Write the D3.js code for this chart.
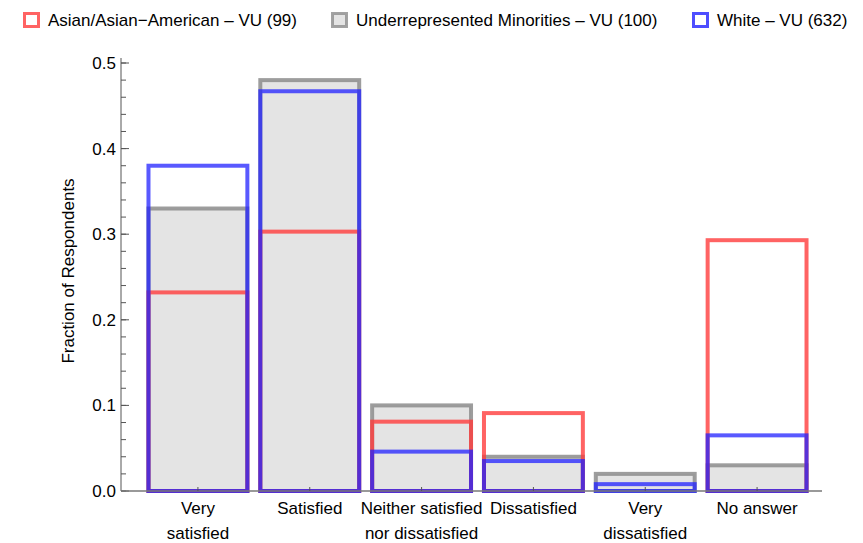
<!DOCTYPE html>
<html>
<head>
<meta charset="UTF-8">
<title>Satisfaction by group</title>
<script src="https://cdn.jsdelivr.net/npm/d3@7"></script>
<style>
  body { margin: 0; background: #fff; }
  text { font-family: "Liberation Sans", Arial, sans-serif; fill: #000; font-size: 17px; }
</style>
</head>
<body>
<div id="chart"></div>
<script>
var W = 863, H = 543;

// data
var categories = ["Very satisfied", "Satisfied", "Neither satisfied nor dissatisfied", "Dissatisfied", "Very dissatisfied", "No answer"];
var catLines = [["Very", "satisfied"], ["Satisfied"], ["Neither satisfied", "nor dissatisfied"], ["Dissatisfied"], ["Very", "dissatisfied"], ["No answer"]];
var asianVals = [0.232, 0.303, 0.081, 0.091, 0.0, 0.293];
var urmVals = [0.33, 0.48, 0.10, 0.04, 0.02, 0.03];
var whiteVals = [0.38, 0.467, 0.046, 0.035, 0.008, 0.065];
var seriesNames = ["Asian/Asian\u2212American \u2013 VU (99)", "Underrepresented Minorities \u2013 VU (100)", "White \u2013 VU (632)"];
var yTicks = [0, 0.1, 0.2, 0.3, 0.4, 0.5];

var series = [
  {name: seriesNames[1], vals: urmVals, stroke: "#8c8c8c", fill: "#e4e4e4", op: 0.85},
  {name: seriesNames[0], vals: asianVals, stroke: "#ff3c3c", fill: "none", op: 0.8},
  {name: seriesNames[2], vals: whiteVals, stroke: "#2222ff", fill: "none", op: 0.75}
];

var svg = d3.select("#chart").append("svg")
  .attr("width", W).attr("height", H);

var x = d3.scaleBand().domain(categories).range([142, 813])
  .paddingInner(0.08).paddingOuter(0.04);
var y = d3.scaleLinear().domain([0, 0.5]).range([491, 63]);

// bars
series.forEach(function (s) {
  svg.append("g").selectAll("rect")
    .data(s.vals)
    .enter().append("rect")
    .attr("x", function (d, i) { return x(categories[i]) + 2; })
    .attr("width", x.bandwidth() - 4)
    .attr("y", function (d) { return y(d); })
    .attr("height", function (d) { return y(0) - y(d); })
    .attr("fill", s.fill)
    .attr("stroke", s.stroke)
    .attr("stroke-opacity", s.op)
    .attr("stroke-width", 4)
    .style("display", function (d) { return d > 0 ? null : "none"; });
});

// y axis
var yMinor = d3.range(0, 0.5001, 0.02);
var ya = svg.append("g");
ya.append("line").attr("x1", 121).attr("x2", 121).attr("y1", y(0.5) - 5).attr("y2", y(0))
  .attr("stroke", "#555").attr("stroke-width", 1);
ya.selectAll(".mn").data(yMinor).enter().append("line")
  .attr("x1", 121).attr("x2", 126)
  .attr("y1", function (d) { return y(d); }).attr("y2", function (d) { return y(d); })
  .attr("stroke", "#555");
ya.selectAll(".mj").data(yTicks).enter().append("line")
  .attr("x1", 121).attr("x2", 129)
  .attr("y1", function (d) { return y(d); }).attr("y2", function (d) { return y(d); })
  .attr("stroke", "#555");
ya.selectAll("text").data(yTicks).enter().append("text")
  .attr("x", 116).attr("y", function (d) { return y(d); })
  .attr("dy", "0.35em").attr("text-anchor", "end")
  .text(d3.format(".1f"));

svg.append("text")
  .attr("transform", "translate(74,271) rotate(-90)")
  .attr("text-anchor", "middle")
  .text("Fraction of Respondents");

// x axis
var xa = svg.append("g");
xa.append("line").attr("x1", 121).attr("x2", 822).attr("y1", y(0)).attr("y2", y(0))
  .attr("stroke", "#777").attr("stroke-width", 1.3);
xa.selectAll("line.t").data(categories).enter().append("line")
  .attr("x1", function (d) { return x(d) + x.bandwidth() / 2; })
  .attr("x2", function (d) { return x(d) + x.bandwidth() / 2; })
  .attr("y1", y(0)).attr("y2", y(0) - 4)
  .attr("stroke", "#555");
xa.selectAll("text").data(categories).enter().append("text")
  .attr("x", function (d) { return x(d) + x.bandwidth() / 2; })
  .attr("y", 514)
  .attr("text-anchor", "middle")
  .each(function (d, i) {
    var t = d3.select(this);
    catLines[i].forEach(function (ln, k) {
      t.append("tspan").attr("x", x(d) + x.bandwidth() / 2)
        .attr("dy", k === 0 ? 0 : 25).text(ln);
    });
  });

// legend
var legendX = [23, 331, 692];
var legendOrder = [
  {name: seriesNames[0], stroke: "#ff3c3c", fill: "#fff"},
  {name: seriesNames[1], stroke: "#8c8c8c", fill: "#e4e4e4"},
  {name: seriesNames[2], stroke: "#2222ff", fill: "#fff"}
];
var lg = svg.append("g").selectAll("g").data(legendOrder).enter().append("g")
  .attr("transform", function (d, i) { return "translate(" + legendX[i] + ",12)"; });
lg.append("rect").attr("x", 1.5).attr("y", 1.5).attr("width", 14).attr("height", 13)
  .attr("fill", function (d) { return d.fill; })
  .attr("stroke", function (d) { return d.stroke; })
  .attr("stroke-opacity", 0.8)
  .attr("stroke-width", 3);
lg.append("text").attr("x", 25).attr("y", 14)
  .text(function (d) { return d.name; });
</script>
</body>
</html>
